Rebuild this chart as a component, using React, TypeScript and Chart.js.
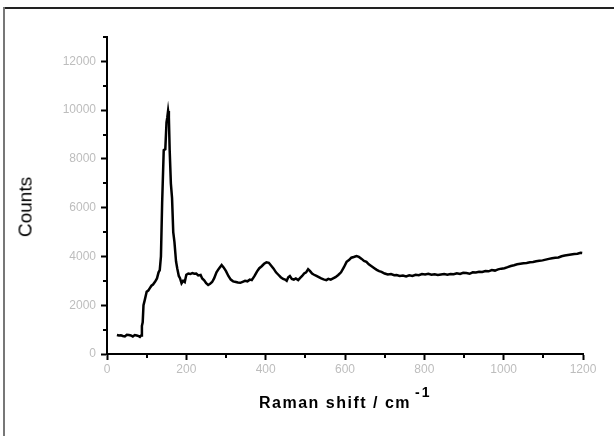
import React, { useEffect, useRef } from "react";
import { Chart, registerables } from "chart.js";

Chart.register(...registerables);

const ramanShift: number[] = [
  25, 30, 35, 40, 45, 50, 55, 60, 65, 70, 75, 80, 83, 86, 88, 90, 92, 95, 100, 104,
  108, 112, 116, 121, 126, 130, 133, 136, 139, 143, 147, 150, 152, 154, 156, 158, 161, 164, 167, 170,
  174, 177, 181, 184, 188, 192, 196, 200, 205, 210, 215, 220, 225, 230, 236, 240, 245, 250, 255, 260,
  265, 270, 276, 282, 289, 294, 300, 306, 312, 318, 325, 330, 336, 342, 348, 354, 360, 365, 372, 378,
  384, 390, 396, 402, 408, 414, 420, 426, 432, 438, 444, 449, 453, 457, 461, 466, 471, 476, 482, 487,
  492, 497, 502, 507, 512, 517, 522, 528, 534, 540, 546, 553, 558, 564, 570, 576, 583, 590, 597, 604,
  610, 616, 622, 629, 635, 642, 648, 654, 660, 667, 674, 680, 686, 692, 700, 708, 716, 724, 730, 738,
  746, 754, 762, 770, 778, 786, 794, 802, 810, 818, 826, 834, 842, 850, 858, 866, 874, 882, 890, 898,
  906, 914, 922, 930, 938, 946, 954, 962, 970, 978, 986, 994, 1002, 1010, 1018, 1026, 1034, 1042, 1050, 1058,
  1066, 1074, 1082, 1090, 1098, 1106, 1114, 1122, 1130, 1138, 1146, 1154, 1162, 1170, 1178, 1186, 1194, 1198,
];

const counts: number[] = [
  780, 760, 770, 740, 720, 790, 780, 760, 720, 780, 760, 730, 700, 760, 1150, 1300, 2000, 2200, 2550, 2600,
  2700, 2800, 2850, 2960, 3100, 3350, 3440, 4000, 6190, 8360, 8400, 9500, 9700, 9970, 9700, 8360, 7000, 6390, 5000, 4600,
  3800, 3520, 3200, 3110, 2900, 3000, 2950, 3250, 3300, 3280, 3320, 3290, 3300, 3220, 3240, 3100, 3020, 2900, 2830, 2880,
  2950, 3100, 3350, 3500, 3650, 3550, 3400, 3200, 3050, 2980, 2950, 2930, 2920, 2960, 3000, 2980, 3050, 3030, 3200, 3380,
  3520, 3600, 3700, 3760, 3740, 3620, 3500, 3350, 3250, 3150, 3080, 3050, 3000, 3150, 3200, 3080, 3050, 3100, 3030, 3120,
  3200, 3300, 3350, 3480, 3400, 3300, 3250, 3200, 3150, 3100, 3060, 3030, 3080, 3050, 3100, 3150, 3240, 3350, 3550, 3780,
  3850, 3950, 3980, 4020, 3980, 3900, 3820, 3780, 3680, 3600, 3520, 3450, 3400, 3370, 3300, 3260, 3280, 3230, 3240, 3200,
  3220, 3180, 3230, 3200, 3250, 3230, 3280, 3260, 3290, 3250, 3270, 3240, 3260, 3280, 3250, 3280, 3270, 3310, 3280, 3330,
  3320, 3290, 3350, 3340, 3370, 3360, 3400, 3390, 3440, 3420, 3470, 3500, 3520, 3560, 3610, 3640, 3680, 3700, 3720, 3730,
  3760, 3770, 3800, 3820, 3840, 3870, 3900, 3930, 3950, 3960, 4010, 4040, 4060, 4080, 4100, 4110, 4150, 4140,
];

const xTickLabels: number[] = [0, 200, 400, 600, 800, 1000, 1200];
const yTickLabels: number[] = [0, 2000, 4000, 6000, 8000, 10000, 12000];

const FONT = "'Liberation Sans', Arial, Helvetica, sans-serif";

const minorTicks = {
  id: "minorTicks",
  afterDraw(chart: any) {
    const ctx = chart.ctx;
    const xs = chart.scales.x;
    const ys = chart.scales.y;
    ctx.save();
    ctx.strokeStyle = "#000";
    ctx.lineWidth = 2;
    for (let v = 0; v <= 13000; v += 1000) {
      if (yTickLabels.includes(v)) continue;
      const py = Math.round(ys.getPixelForValue(v));
      ctx.beginPath();
      ctx.moveTo(ys.right - 4, py);
      ctx.lineTo(ys.right, py);
      ctx.stroke();
    }
    for (let v = 0; v <= 1200; v += 100) {
      if (xTickLabels.includes(v)) continue;
      const px = Math.round(xs.getPixelForValue(v));
      ctx.beginPath();
      ctx.moveTo(px, xs.top);
      ctx.lineTo(px, xs.top + 4);
      ctx.stroke();
    }
    ctx.restore();
  },
};

export default function App() {
  const canvasRef = useRef<HTMLCanvasElement | null>(null);

  useEffect(() => {
    if (!canvasRef.current) return;
    const points = ramanShift.map((x, i) => ({ x, y: counts[i] }));
    const chart = new Chart(canvasRef.current, {
      type: "line",
      data: {
        datasets: [
          {
            data: points,
            borderColor: "#000",
            borderWidth: 2.5,
            pointRadius: 0,
            tension: 0,
            fill: false,
          },
        ],
      },
      options: {
        animation: false,
        responsive: false,
        devicePixelRatio: 1,
        layout: { padding: { left: 0, right: 31, top: 37, bottom: 0 } },
        plugins: { legend: { display: false }, tooltip: { enabled: false } },
        scales: {
          x: {
            type: "linear",
            min: 0,
            max: 1200,
            afterFit: (s: any) => {
              s.height = 82;
            },
            afterBuildTicks: (s: any) => {
              s.ticks = xTickLabels.map((v) => ({ value: v }));
            },
            ticks: {
              color: "#bdbdbd",
              font: { family: FONT, size: 12 },
              padding: 2,
              maxRotation: 0,
              callback: (v: any) => String(v),
            },
            grid: {
              drawOnChartArea: false,
              drawTicks: true,
              tickLength: 6,
              tickColor: "#000",
              tickWidth: 2,
            },
            border: { color: "#000", width: 2 },
          },
          y: {
            type: "linear",
            min: 0,
            max: 13000,
            afterFit: (s: any) => {
              s.width = 107;
            },
            afterBuildTicks: (s: any) => {
              s.ticks = yTickLabels.map((v) => ({ value: v }));
            },
            ticks: {
              color: "#bdbdbd",
              font: { family: FONT, size: 12 },
              padding: 5,
              callback: (v: any) => String(v),
            },
            grid: {
              drawOnChartArea: false,
              drawTicks: true,
              tickLength: 6,
              tickColor: "#000",
              tickWidth: 2,
            },
            border: { color: "#000", width: 2 },
          },
        },
      },
      plugins: [minorTicks],
    });
    return () => chart.destroy();
  }, []);

  return (
    <div
      style={{
        position: "absolute",
        left: 0,
        top: 0,
        width: 614,
        height: 436,
        background: "#fff",
        overflow: "hidden",
        fontFamily: FONT,
      }}
    >
      <canvas
        ref={canvasRef}
        width={614}
        height={436}
        style={{ position: "absolute", left: 0, top: 0, width: 614, height: 436 }}
      />
      <div style={{ position: "absolute", left: 3, top: 7, width: 611, height: 2, background: "#222" }} />
      <div style={{ position: "absolute", left: 3, top: 7, width: 2, height: 429, background: "#777" }} />
      <div
        style={{
          position: "absolute",
          left: 25,
          top: 207,
          transform: "translate(-50%, -50%) rotate(-90deg)",
          fontSize: 19,
          lineHeight: "19px",
          color: "#000",
          whiteSpace: "nowrap",
        }}
      >
        Counts
      </div>
      <div
        style={{
          position: "absolute",
          left: 259,
          top: 395,
          fontSize: 16,
          lineHeight: "16px",
          fontWeight: "bold",
          letterSpacing: "1.5px",
          color: "#000",
          whiteSpace: "nowrap",
        }}
      >
        Raman shift / cm
      </div>
      <div
        style={{
          position: "absolute",
          left: 415,
          top: 385,
          fontSize: 14,
          lineHeight: "14px",
          fontWeight: "bold",
          letterSpacing: "2px",
          color: "#000",
          whiteSpace: "nowrap",
        }}
      >
        -1
      </div>
    </div>
  );
}
